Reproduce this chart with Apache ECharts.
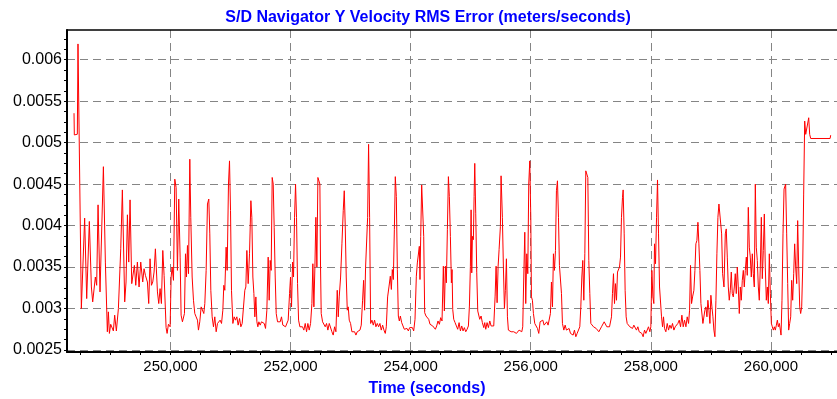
<!DOCTYPE html>
<html>
<head>
<meta charset="utf-8">
<script src="https://cdn.jsdelivr.net/npm/echarts@6/dist/echarts.min.js"></script>
<style>
  html, body { margin: 0; padding: 0; background: #fff; }
  #chart { width: 837px; height: 399px; }
</style>
</head>
<body>
<div id="chart"></div>
<script>
// time stamps (seconds) and Y velocity RMS error (m/s)
var timeSec = [
  248395, 248400, 248450, 248461, 248517, 248572, 248606, 248650, 248684, 248706, 248750, 248772, 248795, 248828, 248884, 248917,
  248950, 248967, 248984, 249006, 249028, 249050, 249072, 249100, 249134, 249173, 249200, 249239, 249261, 249284, 249306, 249328,
  249356, 249378, 249400, 249423, 249450, 249478, 249506, 249539, 249561, 249584, 249617, 249639, 249661, 249684, 249706, 249728,
  249750, 249784, 249806, 249828, 249850, 249873, 249895, 249928, 249945, 249967, 249995,
  250012, 250028, 250051, 250073, 250095, 250117, 250139, 250162, 250178, 250200, 250217, 250234, 250251, 250267, 250284, 250301,
  250323, 250339, 250362, 250384, 250406, 250428, 250451, 250467, 250489, 250512, 250534, 250556, 250573, 250595, 250617, 250639,
  250656, 250673, 250695, 250717, 250739, 250762, 250784, 250806, 250828, 250851, 250873, 250889, 250906, 250928, 250945, 250967,
  250984, 251001, 251017, 251040, 251062, 251084, 251106, 251128, 251151, 251173, 251195, 251217, 251239, 251256, 251273, 251295,
  251317, 251340, 251356, 251373, 251390, 251406, 251423, 251440, 251456, 251473, 251495, 251517, 251540, 251562, 251584, 251606,
  251628, 251645, 251662, 251678, 251695, 251712, 251728, 251745, 251762, 251784, 251806,
  251828, 251850, 251872, 251895, 251917, 251939, 251961, 251984, 252000, 252017, 252034, 252050, 252067, 252084, 252100, 252117,
  252134, 252156, 252178, 252200, 252222, 252245, 252267, 252289, 252311, 252334, 252356, 252372, 252389, 252406, 252422, 252439,
  252456, 252472, 252489, 252500, 252511, 252534, 252556, 252578, 252600, 252622, 252645, 252667, 252689, 252711, 252734, 252756,
  252778, 252795, 252811, 252834, 252856, 252878, 252895, 252911, 252928, 252945, 252961, 252978, 253000, 253022, 253045, 253067,
  253089, 253111, 253134, 253156, 253178, 253200, 253217, 253234, 253250, 253267, 253284, 253300, 253317, 253334, 253356, 253378,
  253400, 253422, 253445, 253467, 253489, 253511, 253534, 253556, 253578, 253595, 253617, 253639,
  253662, 253679, 253695, 253712, 253729, 253745, 253762, 253779, 253795, 253812, 253829, 253851, 253873, 253895, 253918, 253940,
  253962, 253984, 254006, 254029, 254051, 254073, 254095, 254112, 254129, 254145, 254156, 254168, 254184, 254201, 254218, 254234,
  254256, 254279, 254301, 254323, 254345, 254368, 254390, 254412, 254434, 254456, 254479, 254501, 254523, 254545, 254562, 254579,
  254595, 254612, 254629, 254645, 254662, 254679, 254690, 254701, 254718, 254740, 254762, 254784, 254807, 254829, 254851, 254873,
  254895, 254918, 254940, 254962, 254979, 254995, 255007, 255018, 255029, 255045, 255057, 255068, 255084, 255101, 255118, 255134,
  255151, 255173, 255195, 255218, 255234, 255251, 255273, 255295, 255318, 255340, 255362, 255384, 255407, 255423, 255440, 255457,
  255473, 255495,
  255506, 255528, 255545, 255562, 255578, 255595, 255612, 255628, 255651, 255673, 255695, 255717, 255739, 255762, 255784, 255806,
  255828, 255851, 255867, 255884, 255901, 255917, 255934, 255951, 255967, 255984, 256001, 256012, 256028, 256045, 256067, 256089,
  256112, 256134, 256156, 256178, 256201, 256223, 256245, 256267, 256289, 256312, 256328, 256345, 256362, 256378, 256395, 256412,
  256428, 256445, 256462, 256478, 256495, 256512, 256528, 256551, 256573, 256595, 256617, 256639, 256662, 256684, 256706, 256728,
  256751, 256773, 256795, 256817, 256834, 256851, 256867, 256884, 256901, 256917, 256934, 256951, 256967, 256984, 257001, 257023,
  257045, 257067, 257090, 257112, 257134, 257156, 257178, 257201, 257223, 257245, 257267, 257290, 257312,
  257328, 257345, 257361, 257378, 257395, 257411, 257428, 257445, 257461, 257478, 257495, 257511, 257528, 257539, 257556, 257572,
  257589, 257606, 257628, 257650, 257672, 257695, 257717, 257739, 257761, 257784, 257806, 257828, 257850, 257872, 257895, 257917,
  257939, 257961, 257984, 258000, 258017, 258034, 258050, 258061, 258078, 258095, 258111, 258128, 258145, 258161, 258178, 258195,
  258211, 258228, 258250, 258273, 258295, 258317, 258339, 258361, 258384, 258406, 258428, 258450, 258473, 258495, 258517, 258539,
  258561, 258584, 258606, 258628, 258645, 258661, 258678, 258695, 258717, 258734, 258750, 258767, 258784, 258800, 258817, 258834,
  258850, 258867, 258884, 258900, 258917, 258934, 258950, 258967, 258984, 259000, 259017, 259034, 259050, 259067, 259084, 259100,
  259117, 259134, 259150,
  259162, 259179, 259195, 259218, 259240, 259256, 259273, 259290, 259306, 259323, 259340, 259356, 259373, 259390, 259406, 259423,
  259440, 259456, 259473, 259490, 259506, 259523, 259540, 259556, 259573, 259590, 259606, 259623, 259640, 259656, 259673, 259690,
  259706, 259723, 259740, 259756, 259773, 259790, 259806, 259823, 259840, 259856, 259873, 259890, 259906, 259923, 259940, 259956,
  259973, 259990, 260007, 260023, 260040, 260057, 260073, 260090, 260107, 260123, 260140, 260157, 260168, 260184, 260201, 260218,
  260234, 260245, 260262, 260279, 260295, 260312, 260329, 260345, 260362, 260379, 260395, 260412, 260429, 260445, 260462, 260479,
  260495, 260512, 260529, 260545, 260562, 260579, 260595, 260612, 260629, 260645, 260662, 260985, 260995
];
var rmsY = [
  0.005355, 0.005093, 0.005101, 0.00619, 0.003, 0.00409, 0.00312, 0.00405, 0.00326, 0.00308, 0.00338, 0.00328, 0.00425, 0.0032, 0.00471, 0.00356,
  0.00272, 0.00296, 0.0027, 0.00281, 0.00279, 0.00273, 0.00292, 0.00273, 0.003, 0.00372, 0.00443, 0.00308, 0.00332, 0.00413, 0.00356, 0.00431,
  0.0033, 0.00328, 0.00352, 0.00328, 0.00356, 0.00326, 0.00356, 0.00332, 0.00348, 0.0034, 0.00332, 0.00306, 0.0036, 0.00328, 0.00332, 0.00344,
  0.00372, 0.0032, 0.00306, 0.00324, 0.00306, 0.0037, 0.0034, 0.00277, 0.0027, 0.00281, 0.00278,
  0.00338, 0.0035, 0.00334, 0.00456, 0.00446, 0.00346, 0.00432, 0.00362, 0.00292, 0.00284, 0.00282, 0.00294, 0.00366, 0.00338, 0.00376, 0.00342,
  0.0048, 0.0041, 0.00338, 0.0031, 0.00294, 0.0029, 0.00286, 0.00274, 0.00284, 0.00302, 0.00304, 0.00294, 0.00306, 0.00346, 0.00426, 0.00432,
  0.0039, 0.00322, 0.0029, 0.00278, 0.0029, 0.00272, 0.00282, 0.00284, 0.00286, 0.00282, 0.00298, 0.00328, 0.00322, 0.00374, 0.00346, 0.0045,
  0.00478, 0.00418, 0.00322, 0.00282, 0.0029, 0.00286, 0.0029, 0.0028, 0.00288, 0.00278, 0.00282, 0.0028, 0.00322, 0.00326, 0.0037, 0.0033,
  0.00366, 0.0043, 0.0041, 0.00338, 0.00318, 0.0029, 0.00314, 0.00284, 0.00278, 0.00284, 0.0028, 0.00284, 0.00282, 0.00282, 0.00276, 0.00298,
  0.00362, 0.0031, 0.00358, 0.00346, 0.00458, 0.0045, 0.00398, 0.00338, 0.00294, 0.00284, 0.00284,
  0.00284, 0.0029, 0.0028, 0.00282, 0.00278, 0.00276, 0.00286, 0.00318, 0.00338, 0.00302, 0.00356, 0.00338, 0.0041, 0.0045, 0.0041, 0.0033,
  0.00286, 0.00278, 0.0028, 0.00278, 0.00274, 0.00282, 0.00272, 0.00282, 0.00274, 0.00282, 0.00306, 0.00354, 0.00302, 0.0035, 0.0041, 0.0035,
  0.00458, 0.00456, 0.0045, 0.0035, 0.00294, 0.00284, 0.00282, 0.00278, 0.00282, 0.00274, 0.00282, 0.00284, 0.00272, 0.00268, 0.00278, 0.00272,
  0.00322, 0.0029, 0.00314, 0.00338, 0.00378, 0.00418, 0.00442, 0.004, 0.00338, 0.00298, 0.00302, 0.00286, 0.00282, 0.00272, 0.0027, 0.00272,
  0.00268, 0.00272, 0.0027, 0.00274, 0.0028, 0.0031, 0.00334, 0.00298, 0.0035, 0.00352, 0.0041, 0.00498, 0.0041, 0.00282, 0.00286, 0.0028,
  0.00286, 0.00278, 0.00282, 0.00278, 0.00282, 0.00274, 0.0028, 0.00274, 0.0027, 0.00278, 0.00314, 0.00326,
  0.00339, 0.00323, 0.00347, 0.00335, 0.00395, 0.00459, 0.00435, 0.00347, 0.00291, 0.00285, 0.00291, 0.00283, 0.00279, 0.00275, 0.00273, 0.00276,
  0.00273, 0.00277, 0.00275, 0.00277, 0.00273, 0.00287, 0.00339, 0.00355, 0.00355, 0.00375, 0.00335, 0.00387, 0.00449, 0.00447, 0.00387, 0.00295,
  0.00291, 0.00289, 0.00287, 0.00281, 0.00279, 0.00279, 0.00281, 0.00275, 0.00279, 0.00285, 0.00281, 0.00289, 0.00285, 0.00351, 0.00297, 0.00351,
  0.00331, 0.00395, 0.00459, 0.00435, 0.00387, 0.00331, 0.00347, 0.00299, 0.00287, 0.00283, 0.00285, 0.00275, 0.00283, 0.00273, 0.00279, 0.00273,
  0.00277, 0.00272, 0.00275, 0.00279, 0.00303, 0.00351, 0.00419, 0.00343, 0.00387, 0.00383, 0.00435, 0.00475, 0.00415, 0.00343, 0.00297, 0.00297,
  0.00287, 0.00291, 0.00283, 0.00277, 0.00283, 0.00275, 0.00283, 0.00277, 0.00285, 0.00279, 0.00281, 0.00279, 0.00315, 0.00351, 0.00307, 0.00351,
  0.00371, 0.00399,
  0.0046, 0.0041, 0.0035, 0.003, 0.00322, 0.0036, 0.0029, 0.00274, 0.00276, 0.00272, 0.00274, 0.00272, 0.00274, 0.0027, 0.00268, 0.00274,
  0.00272, 0.00272, 0.00278, 0.00338, 0.00392, 0.00306, 0.00366, 0.00342, 0.0045, 0.00478, 0.0041, 0.00314, 0.0031, 0.00294, 0.00282, 0.00282,
  0.00276, 0.0027, 0.00284, 0.00282, 0.00286, 0.0028, 0.00282, 0.00284, 0.0028, 0.00282, 0.00294, 0.00332, 0.00302, 0.00366, 0.00346, 0.0037,
  0.00442, 0.00454, 0.0041, 0.00352, 0.0035, 0.00318, 0.00282, 0.00274, 0.0028, 0.00274, 0.00272, 0.00276, 0.0027, 0.00272, 0.00268, 0.00274,
  0.00266, 0.0027, 0.00268, 0.00278, 0.00302, 0.00338, 0.00358, 0.0031, 0.00366, 0.00466, 0.00468, 0.00458, 0.00358, 0.00318, 0.00282, 0.0028,
  0.00278, 0.0028, 0.00276, 0.00274, 0.00272, 0.00274, 0.00278, 0.00276, 0.00284, 0.00282, 0.00278, 0.0028, 0.00278,
  0.00276, 0.0029, 0.00318, 0.00342, 0.00306, 0.0033, 0.0031, 0.00344, 0.00342, 0.0035, 0.00362, 0.0041, 0.00434, 0.00443, 0.0039, 0.00322,
  0.0029, 0.00282, 0.00282, 0.00278, 0.0028, 0.00276, 0.0028, 0.00278, 0.00274, 0.00278, 0.00272, 0.00274, 0.0027, 0.00266, 0.00274, 0.0027,
  0.00272, 0.00278, 0.00272, 0.00278, 0.00346, 0.00314, 0.00306, 0.00378, 0.00354, 0.0041, 0.00455, 0.0039, 0.00326, 0.00326, 0.0029, 0.00278,
  0.0029, 0.00276, 0.00272, 0.00282, 0.00274, 0.0028, 0.00276, 0.00282, 0.00274, 0.00278, 0.00276, 0.00282, 0.00286, 0.00278, 0.00292, 0.00278,
  0.00286, 0.00278, 0.0029, 0.00282, 0.00298, 0.00352, 0.00306, 0.00314, 0.00322, 0.00346, 0.00378, 0.00382, 0.00404, 0.00378, 0.00346, 0.00306,
  0.00304, 0.00282, 0.00284, 0.00298, 0.00302, 0.0029, 0.0031, 0.00298, 0.00282, 0.00316, 0.00302, 0.0029, 0.00274, 0.00266, 0.0031, 0.00366,
  0.0041, 0.00426, 0.00428,
  0.00426, 0.0039, 0.00342, 0.00326, 0.0039, 0.00396, 0.00362, 0.00326, 0.0031, 0.00322, 0.00344, 0.00318, 0.00314, 0.00326, 0.00342, 0.00318,
  0.0035, 0.00326, 0.00294, 0.00326, 0.0031, 0.00334, 0.00346, 0.00326, 0.00346, 0.00362, 0.0034, 0.00422, 0.00374, 0.00362, 0.00338, 0.00366,
  0.00342, 0.00326, 0.0045, 0.00374, 0.00358, 0.00326, 0.0031, 0.0035, 0.0041, 0.00336, 0.0037, 0.00414, 0.0035, 0.0031, 0.00326, 0.00306,
  0.00366, 0.00318, 0.00282, 0.00278, 0.00274, 0.00278, 0.00274, 0.0028, 0.00286, 0.00278, 0.00282, 0.00274, 0.00268, 0.0031, 0.0039, 0.00444,
  0.00446, 0.0045, 0.0039, 0.0033, 0.00274, 0.00282, 0.0029, 0.00334, 0.0031, 0.00342, 0.00378, 0.0035, 0.0033, 0.00406, 0.0035, 0.00302,
  0.00294, 0.00302, 0.0035, 0.00438, 0.00526, 0.0051, 0.00508, 0.00508, 0.0053, 0.0051, 0.00505, 0.00505, 0.00509
];

// axis ticks and labels
var xLabelValues = [250000, 252000, 254000, 256000, 258000, 260000];
var xTickValues = [248500, 249000, 249500, 250000, 250500, 251000, 251500, 252000, 252500, 253000, 253500, 254000, 254500,
  255000, 255500, 256000, 256500, 257000, 257500, 258000, 258500, 259000, 259500, 260000, 260500, 261000];
var yLabelValues = [0.0025, 0.003, 0.0035, 0.004, 0.0045, 0.005, 0.0055, 0.006];
var yTickValues = [0.0025, 0.002625, 0.00275, 0.002875, 0.003, 0.003125, 0.00325, 0.003375, 0.0035, 0.003625, 0.00375, 0.003875,
  0.004, 0.004125, 0.00425, 0.004375, 0.0045, 0.004625, 0.00475, 0.004875, 0.005, 0.005125, 0.00525, 0.005375, 0.0055,
  0.005625, 0.00575, 0.005875, 0.006, 0.006125, 0.00625];

var xMin = 248278, xMax = 261100;
var yMin = 0.002476, yMax = 0.006358;
var font = '"Liberation Sans", Arial, sans-serif';

var myChart = echarts.init(document.getElementById('chart'));

var seriesData = timeSec.map(function (t, i) {
    return [t, rmsY[i]];
});

var gridLine = {
    show: true,
    lineStyle: { color: '#858585', width: 1, type: [8, 5] }
};

option = {
    animation: false,
    backgroundColor: '#ffffff',
    graphic: [{
        type: 'text',
        x: 428,
        y: 17.6,
        style: {
            text: 'S/D Navigator Y Velocity RMS Error (meters/seconds)',
            fill: '#0000ff',
            font: 'bold 16px ' + font,
            align: 'center',
            verticalAlign: 'middle'
        }
    }, {
        type: 'text',
        x: 427,
        y: 389,
        style: {
            text: 'Time (seconds)',
            fill: '#0000ff',
            font: 'bold 16px ' + font,
            align: 'center',
            verticalAlign: 'middle'
        }
    }],
    grid: {
        left: 67,
        right: 0,
        top: 30,
        bottom: 47,
        containLabel: false,
        outerBoundsMode: 'none'
    },
    xAxis: [{
        type: 'value',
        position: 'bottom',
        min: xMin,
        max: xMax,
        axisLine: { show: true, onZero: false, lineStyle: { color: '#000', width: 2 } },
        axisTick: { show: false, customValues: xLabelValues },
        axisLabel: {
            customValues: xLabelValues,
            color: '#000',
            fontFamily: font,
            fontSize: 15,
            margin: 7,
            formatter: function (v) { return v.toLocaleString('en-US'); }
        },
        splitLine: gridLine
    }, {
        type: 'value',
        position: 'bottom',
        min: xMin,
        max: xMax,
        axisLine: { show: false, onZero: false },
        axisTick: { show: true, customValues: xTickValues, length: 3, lineStyle: { color: '#000', width: 1 } },
        axisLabel: { show: false },
        splitLine: { show: false }
    }, {
        type: 'value',
        position: 'top',
        min: xMin,
        max: xMax,
        axisLine: { show: true, onZero: false, lineStyle: { color: '#000', width: 1.5 } },
        axisTick: { show: false },
        axisLabel: { show: false },
        splitLine: { show: false }
    }],
    yAxis: [{
        type: 'value',
        position: 'left',
        min: yMin,
        max: yMax,
        axisLine: { show: true, onZero: false, lineStyle: { color: '#000', width: 2 } },
        axisTick: { show: false, customValues: yLabelValues },
        axisLabel: {
            customValues: yLabelValues,
            color: '#000',
            fontFamily: font,
            fontSize: 16,
            margin: 5
        },
        splitLine: gridLine
    }, {
        type: 'value',
        position: 'left',
        min: yMin,
        max: yMax,
        axisLine: { show: false, onZero: false },
        axisTick: { show: true, customValues: yTickValues, length: 3, lineStyle: { color: '#000', width: 1 } },
        axisLabel: { show: false },
        splitLine: { show: false }
    }],
    series: [{
        name: 'Y Velocity RMS Error',
        type: 'line',
        xAxisIndex: 0,
        yAxisIndex: 0,
        data: seriesData,
        symbol: 'none',
        showSymbol: false,
        silent: true,
        lineStyle: { color: '#ff0000', width: 1 }
    }]
};
myChart.setOption(option);
</script>
</body>
</html>
